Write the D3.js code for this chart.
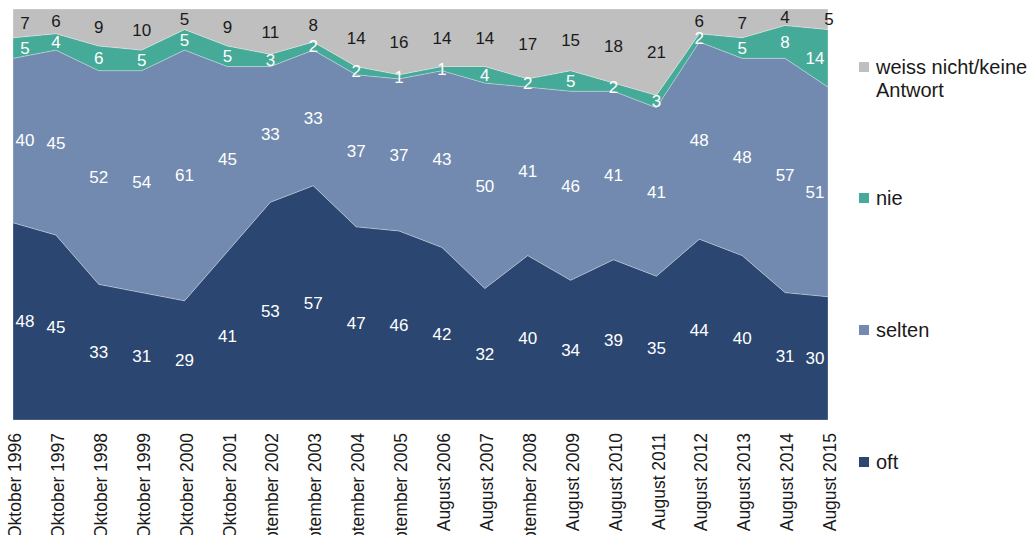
<!DOCTYPE html>
<html>
<head>
<meta charset="utf-8">
<script src="https://cdn.jsdelivr.net/npm/d3@7"></script>
<style>
body { margin: 0; background: #fff; font-family: Arial, "Liberation Sans", sans-serif; overflow: hidden; }
</style>
</head>
<body>
<script>
const categories = ["Oktober 1996","Oktober 1997","Oktober 1998","Oktober 1999","Oktober 2000","Oktober 2001",
  "September 2002","September 2003","September 2004","September 2005","August 2006","August 2007",
  "September 2008","August 2009","August 2010","August 2011","August 2012","August 2013","August 2014","August 2015"];
const oft    = [48,45,33,31,29,41,53,57,47,46,42,32,40,34,39,35,44,40,31,30];
const selten = [40,45,52,54,61,45,33,33,37,37,43,50,41,46,41,41,48,48,57,51];
const nie    = [5,4,6,5,5,5,3,2,2,1,1,4,2,5,2,3,2,5,8,14];
const weiss  = [7,6,9,10,5,9,11,8,14,16,14,14,17,15,18,21,6,7,4,5];

const seriesNames = ["oft","selten","nie","weiss"];
const legendLabels = {oft: ["oft"], selten: ["selten"], nie: ["nie"], weiss: ["weiss nicht/keine", "Antwort"]};
const colors = {oft: "#2b4670", selten: "#728aaf", nie: "#46aa98", weiss: "#bfbfbf"};
const labelColors = {oft: "#fff", selten: "#fff", nie: "#fff", weiss: "#1a1a1a"};

const rows = categories.map((c, i) => ({cat: c, oft: oft[i], selten: selten[i], nie: nie[i], weiss: weiss[i]}));

const W = 1033, H = 535;
const plotLeft = 13, plotRight = 828, plotTop = 9, plotBottom = 420;

const svg = d3.select("body").append("svg").attr("width", W).attr("height", H);

const x = d3.scalePoint().domain(categories).range([plotLeft, plotRight]);
const y = d3.scaleLinear().domain([0, 100]).range([plotBottom, plotTop]);

const stacked = d3.stack().keys(seriesNames)(rows);

const area = d3.area()
  .x(d => x(d.data.cat))
  .y0(d => y(d[0]))
  .y1(d => y(d[1]));

svg.selectAll("path.layer")
  .data(stacked)
  .enter().append("path")
  .attr("class", "layer")
  .attr("d", area)
  .attr("fill", d => colors[d.key])
  .attr("stroke", "#ffffff")
  .attr("stroke-opacity", 0.35)
  .attr("stroke-width", 0.8);

// labels in the middle of each band, edge ones pulled inside the plot
const lastCat = categories[categories.length - 1];
function labelX(d, key) {
  const px = x(d.data.cat);
  if (d.data.cat === categories[0]) return px + 12;
  if (d.data.cat === lastCat && key !== "weiss") return px - 13;
  if (d.data.cat === lastCat) return px + 1;
  return px;
}
stacked.forEach(layer => {
  svg.append("g").selectAll("text")
    .data(layer)
    .enter().append("text")
    .attr("x", d => labelX(d, layer.key))
    .attr("y", d => y((d[0] + d[1]) / 2))
    .attr("dy", "0.35em")
    .attr("text-anchor", "middle")
    .attr("font-size", 17)
    .attr("fill", labelColors[layer.key])
    .text(d => d.data[layer.key]);
});

// x axis labels rotated
const xAxis = d3.axisBottom(x).tickSize(0).tickPadding(0);
const gx = svg.append("g")
  .attr("transform", "translate(0," + plotBottom + ")")
  .call(xAxis);
gx.select(".domain").remove();
gx.selectAll("text")
  .attr("transform", "translate(1.5,13) rotate(-90)")
  .attr("text-anchor", "end")
  .attr("x", 0).attr("y", 0)
  .attr("dy", "0.35em")
  .attr("font-size", 17.5)
  .attr("font-family", "Arial, 'Liberation Sans', sans-serif")
  .attr("fill", "#1a1a1a");

// legend
const legendY = {weiss: 67, nie: 198, selten: 330, oft: 462};
const lg = svg.append("g");
seriesNames.forEach(k => {
  lg.append("rect")
    .attr("x", 859).attr("y", legendY[k] - 5)
    .attr("width", 10).attr("height", 10)
    .attr("fill", colors[k]);
  legendLabels[k].forEach((t, j) => {
    lg.append("text")
      .attr("x", 876).attr("y", legendY[k] + j * 23)
      .attr("dy", "0.35em")
      .attr("font-size", 20)
      .attr("fill", "#1a1a1a")
      .text(t);
  });
});
</script>
</body>
</html>
